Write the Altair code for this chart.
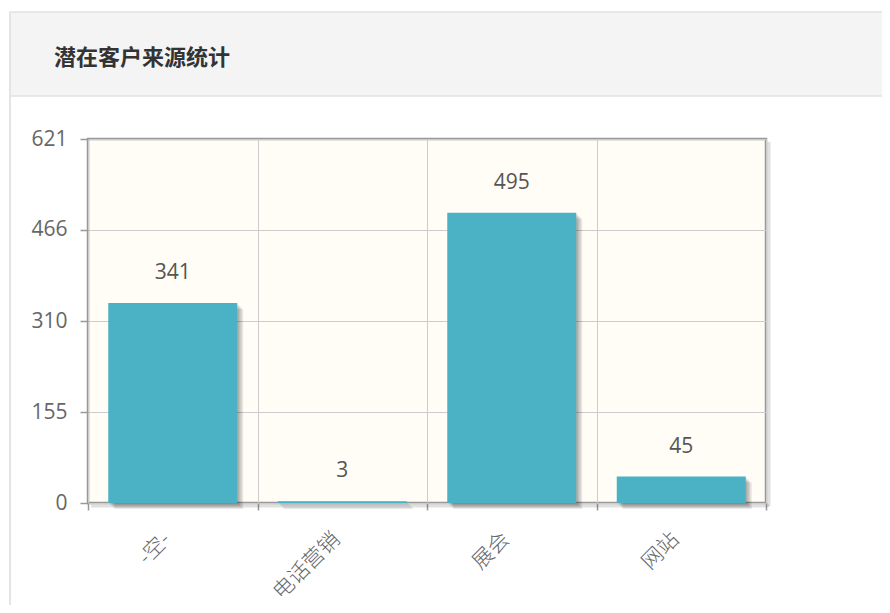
import altair as alt
import pandas as pd

categories = ["-空-", "电话营销", "展会", "网站"]
counts = [341, 3, 495, 45]
y_ticks = [0, 155, 310, 466, 621]
title_text = "潜在客户来源统计"

df = pd.DataFrame({"source": categories, "count": counts})

W, H = 678, 364
NUM_FONT = "Open Sans"
CJK_FONT = "Noto Sans CJK SC"

x_enc = alt.X(
    "source:N", sort=categories,
    scale=alt.Scale(paddingInner=0, paddingOuter=0),
    axis=alt.Axis(title=None, tickBand="extent", labelAngle=315, labelAlign="right",
                  labelBaseline="middle", labelPadding=26, labelOffset=-6, tickSize=7,
                  tickColor="#999", tickWidth=1.5, grid=True, gridColor="#cccccc", gridWidth=1,
                  labelFont=CJK_FONT, labelFontSize=21, labelFontWeight=300,
                  labelColor="#666", domain=False),
)
y_enc = alt.Y(
    "count:Q",
    scale=alt.Scale(domain=[0, 621], nice=False, zero=True),
    axis=alt.Axis(title=None, values=y_ticks, tickSize=8, tickColor="#999", tickWidth=1.5,
                  labelPadding=13, labelFont=NUM_FONT, labelFontSize=21, labelColor="#666",
                  grid=True, gridColor="#cccccc", gridWidth=1, domain=False),
)

one = alt.Data(values=[{"k": 1}])

header = alt.Chart(one).mark_rect(fill="#f4f4f4", stroke="#e2e2e2", strokeWidth=1.5).encode(
    x=alt.value(-78), x2=alt.value(820), y=alt.value(-127), y2=alt.value(-43)
)
panel_left = alt.Chart(one).mark_rule(color="#e4e4e4", strokeWidth=2).encode(
    x=alt.value(-78), y=alt.value(-127), y2=alt.value(480)
)
title = alt.Chart(one).mark_text(
    text=title_text, align="left", baseline="middle", font=CJK_FONT,
    fontSize=22, fontWeight="bold", color="#333"
).encode(x=alt.value(-34), y=alt.value(-81))

border_shadow_r = alt.Chart(one).mark_rule(color="#000", opacity=0.12, strokeWidth=3).encode(
    x=alt.value(W + 3), y=alt.value(3), y2=alt.value(H + 3)
)
border_shadow_b = alt.Chart(one).mark_rule(color="#000", opacity=0.12, strokeWidth=3).encode(
    x=alt.value(3), x2=alt.value(W + 3), y=alt.value(H + 3)
)

base = alt.Chart(df).encode(x=x_enc, y=y_enc)

shadows = [
    base.mark_bar(size=129, color="#000", opacity=0.09, xOffset=k, yOffset=k)
    for k in (1.5, 3, 4.5, 6)
]
bars = base.mark_bar(size=129, color="#4bb2c5")
labels = base.mark_text(dy=-24, baseline="alphabetic", font=NUM_FONT, fontSize=21,
                        color="#555").encode(text="count:Q")

chart = alt.layer(
    header, panel_left, title, border_shadow_r, border_shadow_b, *shadows, bars, labels
).properties(
    width=W, height=H,
    background="white",
    padding={"left": 80, "top": 131, "right": 116, "bottom": 102},
    autosize=alt.AutoSizeParams(type="none"),
).configure_view(
    fill="#fffdf6", stroke="#999999", strokeWidth=2.5
)

chart.save("out.html", embed_options={"renderer": "svg", "actions": False})
